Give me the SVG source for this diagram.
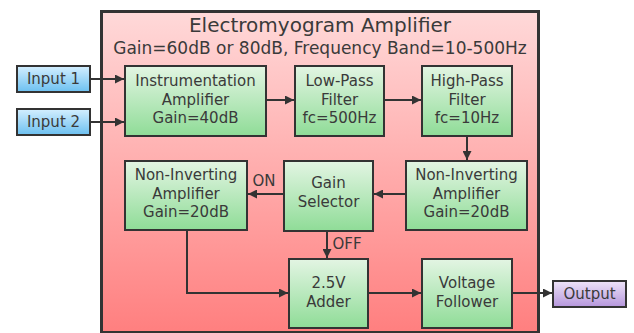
<svg xmlns="http://www.w3.org/2000/svg" width="634" height="333" viewBox="0 0 634 333">
<defs>
<linearGradient id="gPink" x1="0" y1="0" x2="0" y2="1"><stop offset="0" stop-color="#ffd9d9"/><stop offset="1" stop-color="#ff7f7f"/></linearGradient>
<linearGradient id="gGreen" x1="0" y1="0" x2="0" y2="1"><stop offset="0" stop-color="#e3f5e3"/><stop offset="1" stop-color="#8fdc97"/></linearGradient>
<linearGradient id="gBlue" x1="0" y1="0" x2="0" y2="1"><stop offset="0" stop-color="#d4efff"/><stop offset="1" stop-color="#6cc0f0"/></linearGradient>
<linearGradient id="gPurple" x1="0" y1="0" x2="0" y2="1"><stop offset="0" stop-color="#eee4f8"/><stop offset="1" stop-color="#b596dc"/></linearGradient>
<marker id="arr" viewBox="0 0 10 10" refX="10" refY="5" markerWidth="4.5" markerHeight="4.5" orient="auto" markerUnits="strokeWidth"><path d="M0,0 L10,5 L0,10 z" fill="#333"/></marker>
</defs>
<style>
text{font-family:"DejaVu Sans",Verdana,sans-serif;fill:#3a3a3a;text-anchor:middle}
.n{font-size:15px}
.box{stroke:#333;stroke-width:2}
.g{fill:url(#gGreen)}
.c{fill:none;stroke:#333;stroke-width:2;marker-end:url(#arr)}
</style>
<g id="main">
<rect x="101.5" y="11.5" width="437" height="321" fill="url(#gPink)" stroke="#333" stroke-width="3"/>
<text x="320" y="32" font-size="20">Electromyogram Amplifier</text>
<text x="320" y="54" font-size="17">Gain=60dB or 80dB, Frequency Band=10-500Hz</text>
</g>
<g id="input1"><rect class="box" x="17" y="66" width="73" height="26" fill="url(#gBlue)"/><text class="n" x="53.5" y="84">Input 1</text></g>
<g id="input2"><rect class="box" x="17" y="109" width="73" height="26" fill="url(#gBlue)"/><text class="n" x="53.5" y="127">Input 2</text></g>
<g id="inst"><rect class="box g" x="125" y="66" width="141" height="70"/><text class="n" x="195.5" y="86">Instrumentation</text><text class="n" x="195.5" y="104.5">Amplifier</text><text class="n" x="195.5" y="123">Gain=40dB</text></g>
<g id="lpf"><rect class="box g" x="295" y="66" width="89" height="70"/><text class="n" x="339.5" y="86">Low-Pass</text><text class="n" x="339.5" y="104.5">Filter</text><text class="n" x="339.5" y="123">fc=500Hz</text></g>
<g id="hpf"><rect class="box g" x="422" y="66" width="90" height="70"/><text class="n" x="467" y="86">High-Pass</text><text class="n" x="467" y="104.5">Filter</text><text class="n" x="467" y="123">fc=10Hz</text></g>
<g id="ni2"><rect class="box g" x="406" y="161" width="121" height="69"/><text class="n" x="466.5" y="180">Non-Inverting</text><text class="n" x="466.5" y="198.5">Amplifier</text><text class="n" x="466.5" y="217">Gain=20dB</text></g>
<g id="sel"><rect class="box g" x="284" y="161" width="89" height="70"/><text class="n" x="328.5" y="188">Gain</text><text class="n" x="328.5" y="207">Selector</text></g>
<g id="ni1"><rect class="box g" x="125" y="161" width="122" height="69"/><text class="n" x="186" y="180">Non-Inverting</text><text class="n" x="186" y="198.5">Amplifier</text><text class="n" x="186" y="217">Gain=20dB</text></g>
<g id="adder"><rect class="box g" x="289" y="259" width="79" height="69"/><text class="n" x="328.5" y="288">2.5V</text><text class="n" x="328.5" y="307">Adder</text></g>
<g id="vf"><rect class="box g" x="422" y="259" width="90" height="69"/><text class="n" x="467" y="288">Voltage</text><text class="n" x="467" y="307">Follower</text></g>
<g id="output"><rect class="box" x="553" y="281" width="73" height="26" fill="url(#gPurple)"/><text class="n" x="589.5" y="299">Output</text></g>
<g id="connectors">
<path class="c" d="M90,79 H124"/>
<path class="c" d="M90,122 H124"/>
<path class="c" d="M266,100 H294"/>
<path class="c" d="M384,100 H421"/>
<path class="c" d="M467,136 V160"/>
<path class="c" d="M406,194 H374"/>
<path class="c" d="M284,194 H248"/>
<path class="c" d="M327,231 V258"/>
<path class="c" d="M187,230 V293 H288"/>
<path class="c" d="M368,293 H421"/>
<path class="c" d="M512,293 H552"/>
<text class="n" x="264" y="186">ON</text>
<text class="n" x="347" y="249">OFF</text>
</g>
</svg>
